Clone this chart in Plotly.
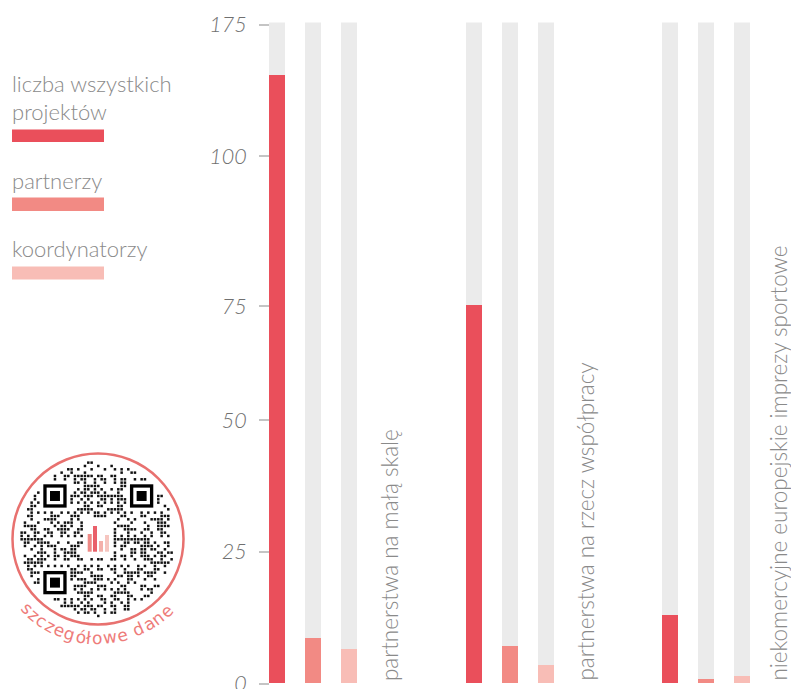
import math
import plotly.graph_objects as go

W, H = 791, 689

# ---- data -------------------------------------------------------------
categories = [
    "partnerstwa na małą skalę",
    "partnerstwa na rzecz współpracy",
    "niekomercyjne europejskie imprezy sportowe",
]
series_names = ["liczba wszystkich projektów", "partnerzy", "koordynatorzy"]
total_projects = [115.4, 71.8, 12.9]
partners = [8.6, 7.1, 0.7]
coordinators = [6.4, 3.5, 1.4]

axis_max = 125.4
tick_vals = [0, 25, 50, 71.6, 100, 125]
tick_text = ["0", "25", "50", "75", "100", "175"]

# ---- style ------------------------------------------------------------
series_colors = ["#EA4F5B", "#F28A84", "#F8BDB6"]
track_color = "#EBEBEB"
text_grey = "#8A8A8A"
FONT = "Lato"

# geometry in page pixels
first_center = 277
group_step = 196.5
bar_step = 36
bar_width = 16
zero_px = 683.6
px_per_unit = 5.272
axis_left = 269

top_px = zero_px - axis_max * px_per_unit
y_domain = [(H - zero_px) / H, (H - top_px) / H]

series_values = [total_projects, partners, coordinators]

fig = go.Figure()

# grey tracks behind every bar
track_x, track_y = [], []
for g in range(len(categories)):
    for i in range(len(series_values)):
        track_x.append(first_center + g * group_step + i * bar_step)
        track_y.append(axis_max)
fig.add_trace(go.Bar(x=track_x, y=track_y, width=bar_width,
                     marker=dict(color=track_color, line=dict(width=0)),
                     hoverinfo="skip", showlegend=False))

for i, (name, vals) in enumerate(zip(series_names, series_values)):
    xs = [first_center + g * group_step + i * bar_step for g in range(len(categories))]
    fig.add_trace(go.Bar(x=xs, y=vals, width=bar_width, name=name,
                         marker=dict(color=series_colors[i], line=dict(width=0)),
                         showlegend=False))

annotations = []
shapes = []

# rotated category labels
label_dx = [4, 4, 1]
for g, cat in enumerate(categories):
    annotations.append(dict(
        x=first_center + g * group_step + 3 * bar_step + label_dx[g], y=zero_px - 0.5,
        xref="x", yref="y2", text=cat, showarrow=False, textangle=-90,
        xanchor="center", yanchor="bottom",
        font=dict(family=FONT, size=22.5, color=text_grey, weight=300)))

# legend block
legend_rows = [
    (["liczba wszystkich", "projektów"], [83.5, 111.5], 129.5, 142),
    (["partnerzy"], [180], 197.5, 211),
    (["koordynatorzy"], [248.5], 266.5, 279.5),
]
for (lines, ys, s0, s1), col in zip(legend_rows, series_colors):
    for line, yy in zip(lines, ys):
        annotations.append(dict(
            x=10, y=yy, xref="x", yref="y2", text=line, showarrow=False,
            xanchor="left", yanchor="middle",
            font=dict(family=FONT, size=22, color=text_grey, weight=300)))
    shapes.append(dict(type="rect", xref="x", yref="y2", x0=12, x1=104,
                       y0=s0, y1=s1, fillcolor=col, line=dict(width=0)))

# ---- QR badge ---------------------------------------------------------
cx, cy, r_circle = 98, 539, 85.5
shapes.append(dict(type="circle", xref="x", yref="y2",
                   x0=cx - r_circle, x1=cx + r_circle,
                   y0=cy - r_circle, y1=cy + r_circle,
                   line=dict(color="#E8716F", width=2.5)))

mod = 3.333
qx0, qy0 = 43.3, 484.3
finders = [(0, 0), (26, 0), (0, 26)]
for fi, fj in finders:
    ox, oy = qx0 + fi * mod, qy0 + fj * mod
    for k, colr in ((0, "#000000"), (1, "#FFFFFF"), (2, "#000000")):
        shapes.append(dict(type="rect", xref="x", yref="y2",
                           x0=ox + k * mod, x1=ox + (7 - k) * mod,
                           y0=oy + k * mod, y1=oy + (7 - k) * mod,
                           fillcolor=colr, line=dict(width=0)))

dot_x, dot_y = [], []
for i in range(-14, 48):
    for j in range(-14, 48):
        px = qx0 + mod * (i + 0.5)
        py = qy0 + mod * (j + 0.5)
        if (px - cx) ** 2 + (py - cy) ** 2 > 77 ** 2:
            continue
        if any(fi - 1 <= i <= fi + 7 and fj - 1 <= j <= fj + 7 for fi, fj in finders):
            continue
        if 83 < px < 114 and 519 < py < 557:
            continue
        h = (i * 92821 + j * 68917 + i * j * 31 + (i ^ j) * 7) % 101
        if h < 46:
            dot_x.append(px)
            dot_y.append(py)
fig.add_trace(go.Scatter(x=dot_x, y=dot_y, xaxis="x", yaxis="y2", mode="markers",
                         marker=dict(symbol="square", size=2.5, color="#111111",
                                     line=dict(width=0)),
                         hoverinfo="skip", showlegend=False))

# small chart icon in the middle of the code
icon_bars = [(87.7, 91.7, 534, "#EE8A86"), (93, 97, 526, "#E9606A"),
             (99, 103, 541, "#F4B0AA"), (105, 109, 535, "#F6C6C0")]
for x0, x1, ytop, colr in icon_bars:
    shapes.append(dict(type="rect", xref="x", yref="y2", x0=x0, x1=x1,
                       y0=ytop, y1=551.7, fillcolor=colr, line=dict(width=0)))

# curved caption under the badge
caption = "szczegółowe dane"
adv = {"s": .521, "z": .525, "c": .55, "e": .615, "g": .635, "ó": .612,
       "ł": .278, "o": .612, "w": .818, " ": .318, "d": .635, "a": .613, "n": .634}
fs = 17
r_text = 99
spacing = 0.6
centers = []
pos = 0.0
for ch in caption:
    w = adv[ch] * fs
    centers.append(pos + w / 2)
    pos += w + spacing
mid = (centers[0] + centers[-1]) / 2
for ch, c in zip(caption, centers):
    theta = math.radians(91) - (c - mid) / r_text
    annotations.append(dict(
        x=cx + r_text * math.cos(theta), y=cy + r_text * math.sin(theta),
        xref="x", yref="y2", text=ch, showarrow=False,
        textangle=math.degrees(theta) - 90, xanchor="center", yanchor="middle",
        font=dict(family="DejaVu Sans", size=fs, color="#EE7C7A")))

fig.update_layout(
    width=W, height=H,
    margin=dict(l=0, r=0, t=0, b=0, autoexpand=False),
    paper_bgcolor="white",
    plot_bgcolor="rgba(0,0,0,0)",
    barmode="overlay",
    bargap=0,
    xaxis=dict(range=[0, W], domain=[0, 1], visible=False, fixedrange=True,
               automargin=False),
    yaxis=dict(range=[0, axis_max], domain=y_domain, anchor="free",
               position=axis_left / W, tickvals=tick_vals, ticktext=tick_text,
               ticks="outside", ticklen=10, tickwidth=1.5, tickcolor="#C4C4C4",
               showgrid=False, zeroline=False, showline=False, automargin=False,
               ticklabelstandoff=8, ticklabeloverflow="allow",
               tickfont=dict(family=FONT, size=21.5, color="#707070",
                             style="italic", weight=300)),
    yaxis2=dict(range=[H, 0], domain=[0, 1], anchor="x", visible=False,
                fixedrange=True, automargin=False),
    annotations=annotations,
    shapes=shapes,
)

fig.write_html("out.html", config={"displayModeBar": False})
